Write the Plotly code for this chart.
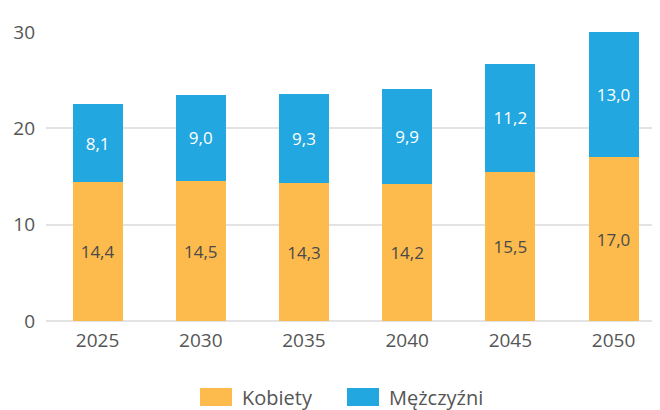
import plotly.graph_objects as go

years = ["2025", "2030", "2035", "2040", "2045", "2050"]
kobiety = [14.4, 14.5, 14.3, 14.2, 15.5, 17.0]
mezczyzni = [8.1, 9.0, 9.3, 9.9, 11.2, 13.0]
series_names = ["Kobiety", "Mężczyźni"]
y_ticks = [0, 10, 20, 30]

ORANGE = "#FDBA4D"
BLUE = "#22A7E0"
FONT = "Open Sans"

fig = go.Figure()
fig.add_trace(go.Bar(
    x=years, y=kobiety, name=series_names[0], marker=dict(color=ORANGE, line=dict(width=0)),
    width=0.485, texttemplate="%{y:.1f}", textposition="inside", insidetextanchor="middle",
    textfont=dict(family=FONT, size=17, color="#4a4a4a"), constraintext="none",
    showlegend=False,
))
fig.add_trace(go.Bar(
    x=years, y=mezczyzni, name=series_names[1], marker=dict(color=BLUE, line=dict(width=0)),
    width=0.485, texttemplate="%{y:.1f}", textposition="inside", insidetextanchor="middle",
    textfont=dict(family=FONT, size=17, color="white"), constraintext="none",
    showlegend=False,
))

# custom legend (large swatches); positions relative to plot area (x0=46, y0=321, 614x289 px)
legend_items = [(series_names[0], ORANGE, 200), (series_names[1], BLUE, 347)]
for name, col, x0 in legend_items:
    fig.add_shape(type="rect", xref="paper", yref="paper",
                  x0=(x0 - 46) / 614, x1=(x0 + 32 - 46) / 614,
                  y0=(321 - 406) / 289, y1=(321 - 388) / 289,
                  fillcolor=col, line=dict(width=0))
    fig.add_annotation(xref="paper", yref="paper", x=(x0 + 40 - 46) / 614,
                       y=(321 - 397) / 289, text=name, showarrow=False,
                       xanchor="left", yanchor="middle",
                       font=dict(family=FONT, size=20, color="#555555"))

# page body has an 8px default margin, so the figure is 8px smaller and margins shifted
fig.update_layout(
    width=652, height=402,
    margin=dict(l=38, r=0, t=24, b=89),
    barmode="stack", separators=", ",
    plot_bgcolor="white", paper_bgcolor="white",
    font=dict(family=FONT, color="#555555"),
    uniformtext=dict(mode=False),
)
fig.update_xaxes(range=[-0.5, 5.45], showgrid=False, showline=False, ticks="",
                 tickfont=dict(family=FONT, size=19, color="#555555"), ticklabelstandoff=6)
fig.update_yaxes(range=[0, 30], tickvals=y_ticks, showgrid=True, gridcolor="#e3e3e3",
                 gridwidth=1.5, zeroline=True, zerolinecolor="#e3e3e3", zerolinewidth=2,
                 ticks="", tickfont=dict(family=FONT, size=19, color="#555555"),
                 ticklabelstandoff=10)

fig.write_html("out.html")
